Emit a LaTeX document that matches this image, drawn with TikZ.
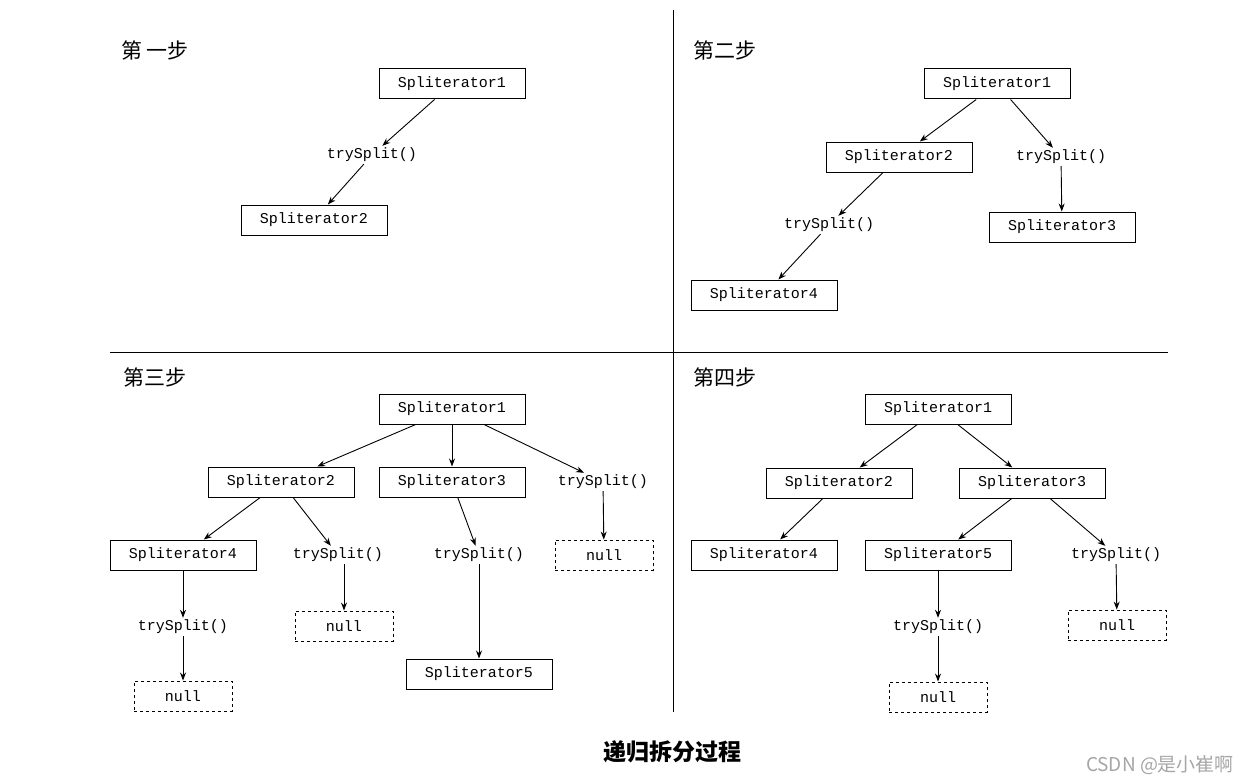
\documentclass[tikz,border=0pt]{standalone}
\usepackage{fontspec}
\setmonofont{Liberation Mono}
\newfontfamily\cjk{Noto Sans CJK SC}
\usetikzlibrary{arrows.meta}
\begin{document}
\begin{tikzpicture}[x=1pt,y=-1pt,
  box/.style={draw,line width=1pt,minimum width=146pt,minimum height=30pt,inner sep=0pt,font=\ttfamily\fontsize{15}{17}\selectfont},
  nul/.style={draw,dashed,line width=0.9pt,minimum width=98pt,minimum height=30pt,inner sep=0pt,font=\ttfamily\fontsize{15}{17}\selectfont},
  ts/.style={inner sep=2pt,font=\ttfamily\fontsize{15}{17}\selectfont},
  lab/.style={font=\cjk\fontsize{21}{23}\selectfont},
  ar/.style={-{Stealth[length=8pt,width=6pt]},line width=0.9pt}]
\useasboundingbox (0,0) rectangle (1259,784);
\fill[white] (0,0) rectangle (1259,784);
\draw[line width=0.9pt] (673,10) -- (673,712);
\draw[line width=0.9pt] (110,352) -- (1168,352);
% step 1
\node[lab] (l1) at (155,50) {第 一步};
\node[box] (a1) at (452,84) {Spliterator1};
\node[ts] (at) at (372,155) {trySplit()};
\node[box] (a2) at (314,220) {Spliterator2};
\draw[ar] (a1) -- (at); \draw[ar] (at) -- (a2);
% step 2
\node[lab] (l2) at (725,50) {第二步};
\node[box] (b1) at (997,84) {Spliterator1};
\node[box] (b2) at (899,157) {Spliterator2};
\node[ts] (bt1) at (1061,157) {trySplit()};
\node[box] (b3) at (1062,227) {Spliterator3};
\node[ts] (bt2) at (829,225) {trySplit()};
\node[box] (b4) at (764,295) {Spliterator4};
\draw[ar] (b1) -- (b2); \draw[ar] (b1) -- (bt1); \draw[ar] (bt1) -- (b3);
\draw[ar] (b2) -- (bt2); \draw[ar] (bt2) -- (b4);
% step 3
\node[lab] (l3) at (155,377) {第三步};
\node[box] (c1) at (452,409) {Spliterator1};
\node[box] (c2) at (281,482) {Spliterator2};
\node[box] (c3) at (452,482) {Spliterator3};
\node[ts] (ct1) at (603,482) {trySplit()};
\node[box] (c4) at (183,555) {Spliterator4};
\node[ts] (ct2) at (338,555) {trySplit()};
\node[ts] (ct3) at (479,555) {trySplit()};
\node[nul] (cn1) at (604,555) {null};
\node[ts] (ct4) at (183,627) {trySplit()};
\node[nul] (cn2) at (344,626) {null};
\node[box] (c5) at (479,674) {Spliterator5};
\node[nul] (cn3) at (183,696) {null};
\draw[ar] (c1) -- (c2); \draw[ar] (c1) -- (c3); \draw[ar] (c1) -- (ct1);
\draw[ar] (ct1) -- (cn1);
\draw[ar] (c2) -- (c4); \draw[ar] (c2) -- (ct2); \draw[ar] (ct2.south -| cn2) -- (cn2);
\draw[ar] (c3) -- (ct3); \draw[ar] (ct3) -- (c5);
\draw[ar] (c4) -- (ct4); \draw[ar] (ct4) -- (cn3);
% step 4
\node[lab] (l4) at (725,377) {第四步};
\node[box] (d1) at (938,409) {Spliterator1};
\node[box] (d2) at (839,483) {Spliterator2};
\node[box] (d3) at (1032,483) {Spliterator3};
\node[box] (d4) at (764,555) {Spliterator4};
\node[box] (d5) at (938,555) {Spliterator5};
\node[ts] (dt1) at (1116,555) {trySplit()};
\node[ts] (dt2) at (938,627) {trySplit()};
\node[nul] (dn1) at (1117,625) {null};
\node[nul] (dn2) at (938,697) {null};
\draw[ar] (d1) -- (d2); \draw[ar] (d1) -- (d3);
\draw[ar] (d2) -- (d4); \draw[ar] (d3) -- (d5); \draw[ar] (d3) -- (dt1);
\draw[ar] (dt1) -- (dn1); \draw[ar] (d5) -- (dt2); \draw[ar] (dt2) -- (dn2);
% caption
\node[font=\cjk\bfseries\fontsize{23}{25}\selectfont] (cap) at (672,752) {递归拆分过程};
\node[font=\cjk\fontsize{19}{21}\selectfont,text=gray!70] (wm) at (1160,765) {CSDN @是小崔啊};
\end{tikzpicture}
\end{document}
